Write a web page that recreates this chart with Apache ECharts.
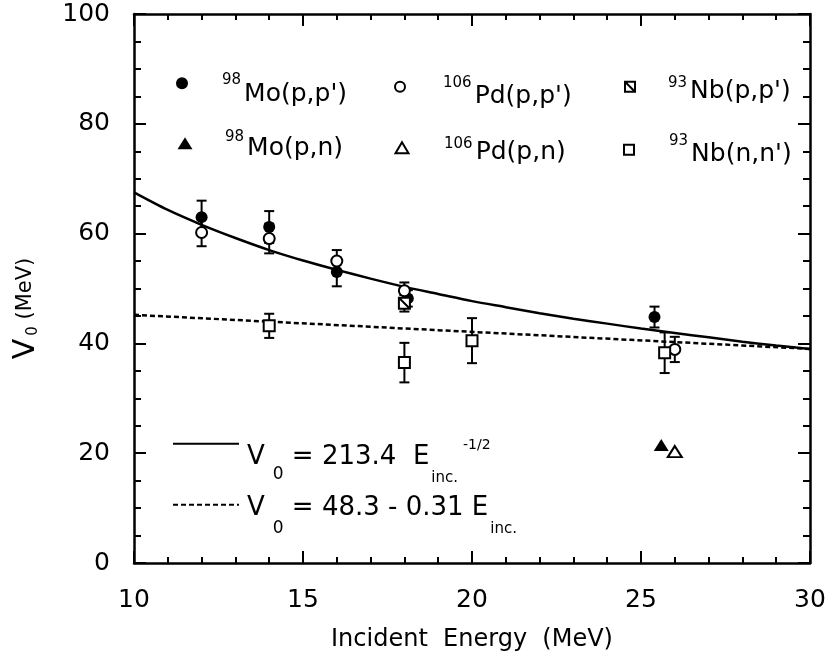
<!DOCTYPE html>
<style>
body {margin: 0;}
#div_echart {height: 655px; width: 832px;}
</style>
<script src='https://cdn.jsdelivr.net/npm/echarts@6/dist/echarts.min.js'></script>
<div id='div_echart'></div>
<script>
// 98Mo(p,p')
let mo_pp_x = [12, 14, 16, 18.1, 25.4]
let mo_pp_y = [63.0, 61.2, 53.0, 48.2, 44.8]
let mo_pp_err = [3.0, 2.9, 2.6, 1.5, 1.9]
// 106Pd(p,p')
let pd_pp_x = [12, 14, 16, 18, 26]
let pd_pp_y = [60.2, 59.1, 55.0, 49.6, 38.9]
let pd_pp_err = [2.5, 2.7, 2.0, 1.5, 2.3]
// 93Nb(p,p')
let nb_pp_x = [18]
let nb_pp_y = [47.3]
let nb_pp_err = [1.5]
// 93Nb(n,n')
let nb_nn_x = [14, 18, 20, 25.7]
let nb_nn_y = [43.2, 36.5, 40.5, 38.3]
let nb_nn_err = [2.2, 3.6, 4.1, 3.7]
// 98Mo(p,n), 106Pd(p,n)
let mo_pn_x = [25.6]
let mo_pn_y = [21.5]
let pd_pn_x = [26.0]
let pd_pn_y = [20.3]
// fitted curves
let fit_x = [10, 11, 12, 13, 14, 15, 16, 17, 18, 19, 20, 21, 22, 23, 24, 25, 26, 27, 28, 29, 30]
let fit_pow_y = [67.5, 64.3, 61.6, 59.2, 57.0, 55.1, 53.4, 51.8, 50.3, 49.0, 47.7, 46.6, 45.5, 44.5, 43.6, 42.7, 41.9, 41.1, 40.3, 39.6, 39.0]
let fit_lin_x = [10, 30]
let fit_lin_y = [45.2, 39.0]

let font = 'DejaVu Sans'
let div_echart = document.getElementById('div_echart')
let echart = echarts.init(div_echart)

function zip(xs, ys, es) {
	return xs.map((x, i) => es ? [x, ys[i], es[i]] : [x, ys[i]])
}

function errorBars(params, api) {
	let x = api.value(0), y = api.value(1), e = api.value(2)
	let top = api.coord([x, y + e])
	let bot = api.coord([x, y - e])
	let w = 5
	let style = {stroke: '#000', lineWidth: 2}
	return {type: 'group', children: [
		{type: 'line', shape: {x1: top[0], y1: top[1], x2: bot[0], y2: bot[1]}, style},
		{type: 'line', shape: {x1: top[0] - w, y1: top[1], x2: top[0] + w, y2: top[1]}, style},
		{type: 'line', shape: {x1: bot[0] - w, y1: bot[1], x2: bot[0] + w, y2: bot[1]}, style},
	]}
}

let filled = {color: '#000', opacity: 1}
let open = {color: '#fff', borderColor: '#000', borderWidth: 2, opacity: 1}
let crossed = 'path://M0,0H10V10H0ZM0,0L10,10'

// token shifted up (dy < 0) or down (dy > 0) by dy px
function tok(size, lh, dy, left, right) {
	let pad = dy < 0 ? [0, right || 0, -2 * dy, left || 0] : [2 * dy, right || 0, 0, left || 0]
	return {fontFamily: font, fontSize: size, lineHeight: lh, padding: pad, color: '#000'}
}

// one legend per entry so each sits where it is in the figure
function legendItem(name, label, rich, lh, iconX, iconY, iconW, iconH, textX, textY, adj) {
	let pad = 2 * (textY - iconY)
	return {
		data: [name], left: iconX - iconW / 2, top: iconY - (lh - pad) / 2 + adj,
		padding: 0, itemWidth: iconW, itemHeight: iconH, selectedMode: false,
		formatter: label,
		textStyle: {fontFamily: font, color: '#000', padding: [pad, 0, 0, textX - iconX - iconW / 2 - 5], rich},
	}
}
function nuclide(name, mass, reaction, iconX, iconY, iconW, iconH, textX, textY, supDy, adj) {
	let rich = {main: tok(25, 40, 0), sup: tok(15, 40, supDy, 0, 3)}
	return legendItem(name, '{sup|' + mass + '}{main|' + reaction + '}', rich, 40, iconX, iconY, iconW, iconH, textX, textY, adj)
}

let legends = [
	nuclide('mo_pp', '98', "Mo(p,p')", 182, 83, 12, 12, 222, 94.5, -14.5, -9),
	nuclide('pd_pp', '106', "Pd(p,p')", 399, 86, 10, 10, 442, 96, -14, -8),
	nuclide('nb_pp', '93', "Nb(p,p')", 629, 85, 10, 10, 667, 89.5, -8, -3),
	nuclide('mo_pn', '98', 'Mo(p,n)', 185, 143, 15, 12, 225, 148.5, -11.5, -6),
	nuclide('pd_pn', '106', 'Pd(p,n)', 401, 146, 13, 11, 443, 151, -9, -3),
	nuclide('nb_nn', '93', "Nb(n,n')", 628, 150, 10, 10, 668, 155, -14, -9),
	legendItem('fit_pow', '{eq|V}{sub|0}{eq| = 213.4  E}{inc|inc.}{sup|-1/2}',
		{eq: tok(26, 56, 0), sub: tok(17, 56, 18, 8), inc: tok(15, 56, 21, 2, 5), sup: tok(14, 56, -12)},
		56, 205, 443, 66, 14, 246, 456, -7),
	legendItem('fit_lin', '{eq|V}{sub|0}{eq| = 48.3 - 0.31 E}{inc|inc.}',
		{eq: tok(26, 56, 0), sub: tok(17, 56, 21, 8), inc: tok(15, 56, 21, 2)},
		56, 205, 504, 66, 14, 246, 507, -9),
]
legends[6].itemStyle = {opacity: 0}
legends[7].itemStyle = {opacity: 0}

let tickStyle = {color: '#000', width: 2}
function xAxis(position, labels) {
	return {
		type: 'value', min: 10, max: 30, interval: 5, position,
		axisLine: {onZero: false, lineStyle: {color: '#000', width: 2.5}},
		axisTick: {inside: true, length: 12, lineStyle: tickStyle},
		minorTick: {show: true, splitNumber: 5, length: 6, lineStyle: tickStyle},
		splitLine: {show: false},
		axisLabel: {show: labels, fontFamily: font, fontSize: 25, color: '#000', margin: 13},
	}
}
function yAxis(position, labels) {
	return {
		type: 'value', min: 0, max: 100, interval: 20, position,
		axisLine: {onZero: false, lineStyle: {color: '#000', width: 2.5}},
		axisTick: {inside: true, length: 12, lineStyle: tickStyle},
		minorTick: {show: true, splitNumber: 4, length: 7, lineStyle: tickStyle},
		splitLine: {show: false},
		axisLabel: {show: labels, fontFamily: font, fontSize: 25, color: '#000', margin: 24},
	}
}

let xBottom = xAxis('bottom', true)
xBottom.name = 'Incident  Energy  (MeV)'
xBottom.nameLocation = 'middle'
xBottom.nameGap = 53
xBottom.nameMoveOverlap = false
xBottom.nameTextStyle = {fontFamily: font, fontSize: 24, color: '#000'}
let yLeft = yAxis('left', true)
yLeft.name = '{v|V}{s|0}{u| (MeV)}'
yLeft.nameLocation = 'middle'
yLeft.nameGap = 90
yLeft.nameMoveOverlap = false
yLeft.nameTextStyle = {padding: [0, 40, 0, 0], rich: {
	v: tok(30, 36, 0),
	s: tok(15, 36, 7, 3),
	u: tok(21, 36, 0),
}}

function scatter(name, data, symbol, symbolSize, itemStyle) {
	return {name, type: 'scatter', data, symbol, symbolSize, itemStyle, z: 3}
}
function bars(data) {
	return {type: 'custom', renderItem: errorBars, data, encode: {x: 0, y: 1}, z: 2, silent: true}
}

echart.setOption({
	animation: false,
	textStyle: {fontFamily: font},
	grid: {left: 134, right: 22, top: 14, bottom: 92, outerBoundsMode: 'none'},
	xAxis: [xBottom, xAxis('top', false)],
	yAxis: [yLeft, yAxis('right', false)],
	legend: legends,
	series: [
		{name: 'fit_pow', type: 'line', data: zip(fit_x, fit_pow_y), symbol: 'none', smooth: 0.3,
			lineStyle: {color: '#000', width: 2.5}, itemStyle: {color: '#000'}, z: 1},
		{name: 'fit_lin', type: 'line', data: zip(fit_lin_x, fit_lin_y), symbol: 'none',
			lineStyle: {color: '#000', width: 2.5, type: [5, 3]}, itemStyle: {color: '#000'}, z: 1},
		bars(zip(mo_pp_x, mo_pp_y, mo_pp_err)),
		bars(zip(pd_pp_x, pd_pp_y, pd_pp_err)),
		bars(zip(nb_pp_x, nb_pp_y, nb_pp_err)),
		bars(zip(nb_nn_x, nb_nn_y, nb_nn_err)),
		scatter('mo_pp', zip(mo_pp_x, mo_pp_y), 'circle', 12, filled),
		scatter('pd_pp', zip(pd_pp_x, pd_pp_y), 'circle', 11, open),
		scatter('nb_pp', zip(nb_pp_x, nb_pp_y), crossed, 11, open),
		scatter('nb_nn', zip(nb_nn_x, nb_nn_y), 'rect', 11, open),
		scatter('mo_pn', zip(mo_pn_x, mo_pn_y), 'triangle', [15, 12], filled),
		scatter('pd_pn', zip(pd_pn_x, pd_pn_y), 'triangle', [14, 11], open),
	],
})
</script>
